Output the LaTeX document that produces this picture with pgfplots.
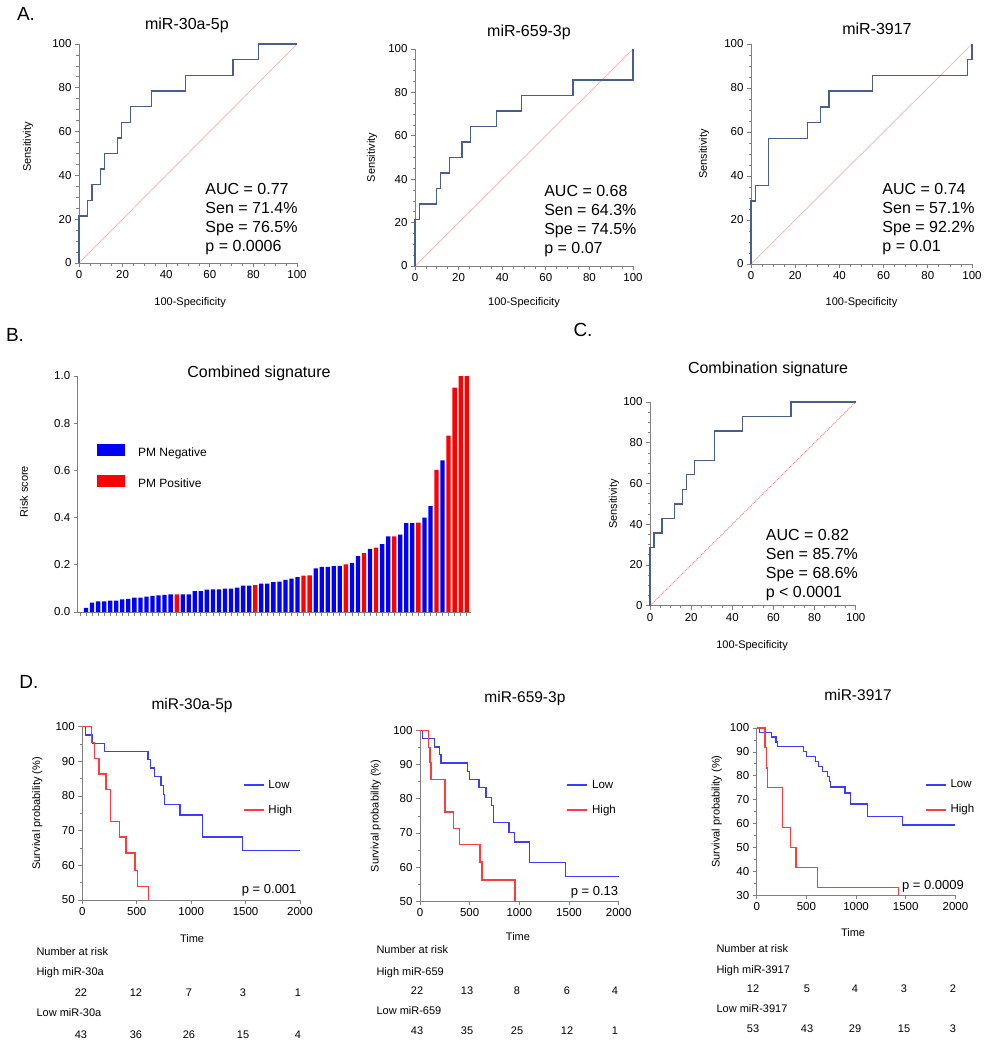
\documentclass[border=0pt]{standalone}
\usepackage{fontspec}
\setmainfont{Liberation Sans}
\usepackage{pgfplots}
\pgfplotsset{compat=1.18}

\definecolor{rocblue}{HTML}{4A5E8E}
\definecolor{diagpink}{HTML}{F7AFAF}
\definecolor{diagred}{HTML}{FF7070}
\definecolor{axgray}{HTML}{808080}
\definecolor{kmblue}{HTML}{3C3CFF}
\definecolor{kmred}{HTML}{FF3C3C}
\definecolor{barblue}{HTML}{0000FF}
\definecolor{barred}{HTML}{FF0000}

\newcommand{\fs}[2]{\fontsize{#1}{#2}\selectfont}

\pgfplotsset{
  base/.style={
    scale only axis, anchor=south west, clip=false,
    axis lines*=left,
    axis line style={-, draw=axgray, line width=0.9pt},
    tick align=outside,
    tick style={axgray, line width=0.8pt},
    major tick length=4pt, minor tick length=2.5pt,
    tick label style={font=\fs{11.5}{13}},
    label style={font=\fs{11}{13}},
    every axis title/.style={anchor=center, font=\fs{16}{19}},
    xlabel style={anchor=center},
    ylabel style={anchor=center},
    /pgf/number format/assume math mode=true,
    /pgf/number format/1000 sep={},
    scaled ticks=false,
  },
  roc/.style={base,
    xmin=0, xmax=100, ymin=0, ymax=100,
    xtick={0,20,40,60,80,100}, ytick={0,20,40,60,80,100},
    minor tick num=3,
    xlabel={100-Specificity}, ylabel={Sensitivity},
  },
  km/.style={base,
    xmin=0, xmax=2000,
    xtick={0,500,1000,1500,2000},
    minor y tick num=1,
    xlabel={Time}, ylabel={Survival probability (\%)},
    every axis title/.style={anchor=center, font=\fs{15.5}{18}},
    legend cell align=left,
    legend image code/.code={\draw[#1] (0pt,0pt) -- (20pt,0pt);},
    legend style={draw=none, fill=none, inner sep=0pt, anchor=west,
      row sep=13pt, column sep=3pt, font=\fs{11.5}{13},
      nodes={inner sep=1pt, text height=8pt, text depth=2pt}},
  },
  rocline/.style={color=rocblue, line width=1.3pt, sharp plot},
  kmlow/.style={color=kmblue, line width=1.3pt, const plot},
  kmhigh/.style={color=kmred, line width=1.3pt, const plot},
}

\begin{document}
\begin{tikzpicture}
\path[use as bounding box] (0pt,0pt) rectangle (990pt,-1050pt);

% panel letters
\node[font=\fs{19}{22}] at (26pt,-14pt) {A.};
\node[font=\fs{19}{22}] at (15pt,-334.5pt) {B.};
\node[font=\fs{19}{22}] at (583pt,-330pt) {C.};
\node[font=\fs{19}{22}] at (29pt,-682pt) {D.};

% ---------------- A1
\begin{axis}[roc, at={(79pt,-263pt)}, width=218pt, height=219pt,
  title={miR-30a-5p}, title style={at={(axis description cs:0.495,1.087)}},
  xlabel style={at={(axis description cs:0.51,-0.183)}},
  ylabel style={at={(axis description cs:-0.234,0.53)}}]
\addplot[color=diagpink, line width=0.7pt] coordinates {(0,0) (100,100)};
\addplot[rocline] coordinates {(0,0)(0,21.4)(3.9,21.4)(3.9,28.6)(5.9,28.6)(5.9,35.7)(9.8,35.7)(9.8,42.9)(11.8,42.9)(11.8,50)(17.6,50)(17.6,57.1)(19.6,57.1)(19.6,64.3)(23.5,64.3)(23.5,71.4)(33.3,71.4)(33.3,78.6)(49.0,78.6)(49.0,85.7)(70.6,85.7)(70.6,92.9)(82.4,92.9)(82.4,100)(100,100)};
\node[anchor=west, align=left, font=\fs{16}{19}] at (axis cs:56.4,19.9) {AUC = 0.77\\Sen = 71.4\%\\Spe = 76.5\%\\p = 0.0006};
\end{axis}

% ---------------- A2
\begin{axis}[roc, at={(415pt,-266pt)}, width=218pt, height=217pt,
  title={miR-659-3p}, title style={at={(axis description cs:0.523,1.078)}},
  xlabel style={at={(axis description cs:0.5,-0.171)}},
  ylabel style={at={(axis description cs:-0.197,0.5)}}]
\addplot[color=diagpink, line width=0.7pt] coordinates {(0,0) (100,100)};
\addplot[rocline] coordinates {(0,0)(0,21.4)(2.0,21.4)(2.0,28.6)(9.8,28.6)(9.8,35.7)(11.8,35.7)(11.8,42.9)(15.7,42.9)(15.7,50)(21.6,50)(21.6,57.1)(25.5,57.1)(25.5,64.3)(37.3,64.3)(37.3,71.4)(49.0,71.4)(49.0,78.6)(72.5,78.6)(72.5,85.7)(100,85.7)(100,100)};
\node[anchor=west, align=left, font=\fs{16}{19}] at (axis cs:57.7,20.8) {AUC = 0.68\\Sen = 64.3\%\\Spe = 74.5\%\\p = 0.07};
\end{axis}

% ---------------- A3
\begin{axis}[roc, at={(751pt,-264pt)}, width=221pt, height=220pt,
  title={miR-3917}, title style={at={(axis description cs:0.57,1.068)}},
  xlabel style={at={(axis description cs:0.5,-0.177)}},
  ylabel style={at={(axis description cs:-0.213,0.5)}}]
\addplot[color=diagpink, line width=0.7pt] coordinates {(0,0) (100,100)};
\addplot[rocline] coordinates {(0,0)(0,28.6)(2.0,28.6)(2.0,35.7)(7.8,35.7)(7.8,57.1)(25.5,57.1)(25.5,64.3)(31.4,64.3)(31.4,71.4)(35.3,71.4)(35.3,78.6)(54.9,78.6)(54.9,85.7)(98.0,85.7)(98.0,92.9)(100,92.9)(100,100)};
\node[anchor=west, align=left, font=\fs{16}{19}] at (axis cs:57.9,20.2) {AUC = 0.74\\Sen = 57.1\%\\Spe = 92.2\%\\p = 0.01};
\end{axis}

% ---------------- B
\node[font=\fs{16}{19}] at (259pt,-373pt) {Combined signature};
\begin{axis}[base, at={(77.7pt,-612pt)}, width=393pt, height=236pt,
  xmin=-0.38, xmax=64.66, ymin=0, ymax=1,
  xtick={0,...,64}, xticklabels={},
  ytick={0,0.2,0.4,0.6,0.8,1},
  yticklabel style={/pgf/number format/.cd, fixed, fixed zerofill, precision=1},
  ylabel={Risk score},
  ylabel style={at={(axis description cs:-0.137,0.51)}},
  legend style={draw=none, fill=none, inner sep=0pt, anchor=west,
    at={(axis description cs:0.049,0.614)},
    row sep=16pt, column sep=13pt, font=\fs{12}{14},
    nodes={inner sep=0pt, text height=9pt, text depth=3pt}},
  legend cell align=left]
\addplot[ybar, bar width=4.3pt, bar shift=0pt, fill=barblue, draw=none,
  legend image code/.code={\fill[barblue] (0pt,-3pt) rectangle (28pt,9pt);}]
  coordinates {(0,0)(1,0.017)(2,0.040)(3,0.045)(4,0.045)(5,0.048)(6,0.048)(7,0.054)(8,0.056)(9,0.061)(10,0.061)(11,0.065)(12,0.068)(13,0.071)(14,0.073)(15,0.075)(17,0.075)(18,0.075)(19,0.088)(20,0.089)(21,0.095)(22,0.096)(23,0.096)(24,0.099)(25,0.099)(26,0.103)(27,0.112)(28,0.112)(30,0.120)(31,0.120)(32,0.127)(33,0.129)(34,0.136)(35,0.141)(36,0.148)(39,0.185)(40,0.191)(41,0.191)(42,0.194)(43,0.195)(45,0.208)(46,0.237)(48,0.267)(50,0.288)(51,0.321)(53,0.328)(54,0.377)(55,0.377)(57,0.400)(58,0.449)(60,0.643)};
\addlegendentry{PM Negative}
\addplot[ybar, bar width=4.3pt, bar shift=0pt, fill=barred, draw=none,
  legend image code/.code={\fill[barred] (0pt,-3pt) rectangle (28pt,9pt);}]
  coordinates {(16,0.075)(29,0.114)(37,0.154)(38,0.155)(44,0.202)(47,0.250)(49,0.273)(52,0.321)(56,0.379)(59,0.602)(61,0.747)(62,0.951)(63,1.0)(64,1.0)};
\addlegendentry{PM Positive}
\end{axis}

% ---------------- C
\begin{axis}[roc, at={(650pt,-605.7pt)}, width=205.7pt, height=203.7pt,
  title={Combination signature}, title style={at={(axis description cs:0.574,1.162)}},
  xlabel style={at={(axis description cs:0.496,-0.196)}},
  ylabel style={at={(axis description cs:-0.175,0.5)}}]
\addplot[color=diagred, line width=0.9pt, densely dotted] coordinates {(0,0) (100,100)};
\addplot[rocline] coordinates {(0,0)(0,28.6)(2.0,28.6)(2.0,35.7)(5.9,35.7)(5.9,42.9)(11.8,42.9)(11.8,50)(15.7,50)(15.7,57.1)(17.6,57.1)(17.6,64.3)(21.6,64.3)(21.6,71.4)(31.4,71.4)(31.4,85.7)(45.1,85.7)(45.1,92.9)(68.6,92.9)(68.6,100)(100,100)};
\node[anchor=west, align=left, font=\fs{16}{19}] at (axis cs:54.6,20.1) {AUC = 0.82\\Sen = 85.7\%\\Spe = 68.6\%\\p < 0.0001};
\end{axis}

% ---------------- D1
\begin{axis}[km, at={(82.3pt,-900pt)}, width=217.7pt, height=173.3pt,
  ymin=50, ymax=100, ytick={50,60,70,80,90,100},
  title={miR-30a-5p}, title style={at={(axis description cs:0.504,1.125)}},
  xlabel style={at={(axis description cs:0.504,-0.225)}},
  ylabel style={at={(axis description cs:-0.207,0.5)}},
  legend style={at={(axis description cs:0.738,0.591)}}]
\addplot[kmlow] coordinates {(0,100)(30,97.6)(95,95.2)(202,92.9)(603,90.5)(628,88.1)(662,85.6)(723,83.1)(744,80.5)(753,77.5)(897,74.5)(1106,68.2)(1470,64.2)(2000,64.2)};
\addlegendentry{Low}
\addplot[kmhigh] coordinates {(0,100)(86,95.5)(110,90.9)(153,86.4)(217,81.8)(260,72.7)(340,68.2)(401,63.6)(484,58.6)(505,53.8)(609,50)};
\addlegendentry{High}
\node[anchor=east, font=\fs{13}{15}] at (axis cs:2000,52.9) {p = 0.001};
\end{axis}

% ---------------- D2
\begin{axis}[km, at={(420pt,-901.3pt)}, width=198.7pt, height=170.7pt,
  ymin=50, ymax=100, ytick={50,60,70,80,90,100},
  title={miR-659-3p}, title style={at={(axis description cs:0.528,1.19)}},
  xlabel style={at={(axis description cs:0.493,-0.205)}},
  ylabel style={at={(axis description cs:-0.223,0.5)}},
  legend style={at={(axis description cs:0.738,0.608)}}]
\addplot[kmlow] coordinates {(0,100)(27,97.6)(148,95.2)(195,92.9)(210,90.5)(477,88.1)(497,85.7)(594,83.3)(664,80.5)(718,78)(738,73)(896,70.2)(950,67.4)(1100,61.4)(1466,57.3)(2000,57.3)};
\addlegendentry{Low}
\addplot[kmhigh] coordinates {(0,100)(87,95)(100,90.7)(110,85.7)(252,76.2)(339,71.4)(400,66.7)(604,61.5)(624,56.2)(956,50)(1426,50)};
\addlegendentry{High}
\node[anchor=east, font=\fs{13}{15}, xshift=3pt] at (axis cs:2000,52.6) {p = 0.13};
\end{axis}

% ---------------- D3
\begin{axis}[km, at={(756.7pt,-895.3pt)}, width=198.7pt, height=167.3pt,
  ymin=30, ymax=100, ytick={30,40,50,60,70,80,90,100},
  title={miR-3917}, title style={at={(axis description cs:0.51,1.197)}},
  xlabel style={at={(axis description cs:0.485,-0.221)}},
  ylabel style={at={(axis description cs:-0.201,0.5)}},
  legend style={at={(axis description cs:0.847,0.585)}}]
\addplot[kmlow] coordinates {(0,100)(27,98.1)(148,96.2)(195,94.2)(208,92.2)(470,90.2)(503,88.2)(594,86.1)(621,84)(661,81.7)(715,79.6)(732,77.5)(745,75.3)(889,72.8)(943,68.2)(1114,63)(1466,59.4)(2000,59.4)};
\addlegendentry{Low}
\addplot[kmhigh] coordinates {(0,100)(84,91.7)(101,83.3)(111,75)(258,58.3)(342,50)(396,41.7)(611,33.3)(1426,30)};
\addlegendentry{High}
\node[anchor=east, font=\fs{13}{15}, xshift=12pt] at (axis cs:2000,33.6) {p = 0.0009};
\end{axis}

% ---------------- number at risk tables
\begin{scope}[every node/.style={font=\fs{11}{13}}]
\node[anchor=west] at (33pt,-952pt) {Number at risk};
\node[anchor=west] at (33pt,-973pt) {High miR-30a};
\node at (81pt,-993pt) {22}; \node at (136pt,-993pt) {12}; \node at (189pt,-993pt) {7}; \node at (243pt,-993pt) {3}; \node at (298pt,-993pt) {1};
\node[anchor=west] at (33pt,-1013pt) {Low miR-30a};
\node at (81pt,-1035pt) {43}; \node at (136pt,-1035pt) {36}; \node at (189pt,-1035pt) {26}; \node at (243pt,-1035pt) {15}; \node at (298pt,-1035pt) {4};

\node[anchor=west] at (373pt,-950pt) {Number at risk};
\node[anchor=west] at (373pt,-973pt) {High miR-659};
\node at (417pt,-991pt) {22}; \node at (467pt,-991pt) {13}; \node at (517pt,-991pt) {8}; \node at (567pt,-991pt) {6}; \node at (615pt,-991pt) {4};
\node[anchor=west] at (373pt,-1011pt) {Low miR-659};
\node at (417pt,-1031pt) {43}; \node at (467pt,-1031pt) {35}; \node at (517pt,-1031pt) {25}; \node at (567pt,-1031pt) {12}; \node at (615pt,-1031pt) {1};

\node[anchor=west] at (713pt,-949pt) {Number at risk};
\node[anchor=west] at (713pt,-971pt) {High miR-3917};
\node at (753pt,-989pt) {12}; \node at (807pt,-989pt) {5}; \node at (855pt,-989pt) {4}; \node at (904pt,-989pt) {3}; \node at (953pt,-989pt) {2};
\node[anchor=west] at (713pt,-1009pt) {Low miR-3917};
\node at (753pt,-1029pt) {53}; \node at (807pt,-1029pt) {43}; \node at (855pt,-1029pt) {29}; \node at (904pt,-1029pt) {15}; \node at (953pt,-1029pt) {3};
\end{scope}
\end{tikzpicture}
\end{document}
